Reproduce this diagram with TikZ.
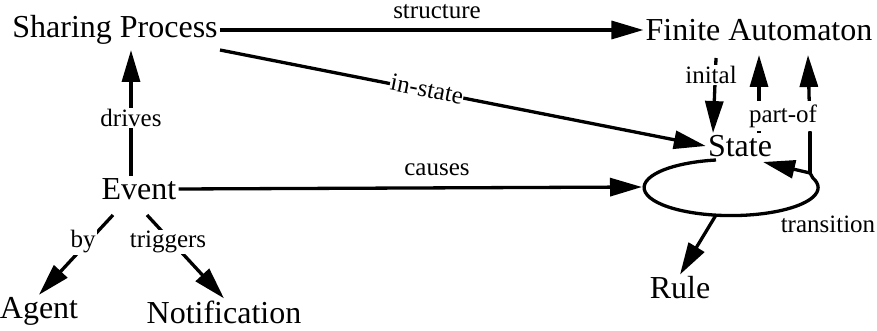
\documentclass[tikz,border=0pt]{standalone}
\usepackage{fontspec}
\setmainfont{Liberation Serif}
\usetikzlibrary{arrows.meta}
\begin{document}
\begin{tikzpicture}[x=1pt,y=-1pt,
  concept/.style={font=\fontsize{32}{34}\selectfont, inner sep=2pt},
  lbl/.style={font=\fontsize{25}{27}\selectfont, inner sep=1.5pt, fill=white},
  arr/.style={line width=3.3pt, -{Triangle[length=32pt,width=18pt]}},
  ln/.style={line width=3.3pt}]
\useasboundingbox (0,0) rectangle (877,331);
% concepts
\node[concept] (sp) at (115,30) {Sharing Process};
\node[concept] (fa) at (759,30) {Finite Automaton};
\node[concept] (st) at (740,146) {State};
\node[concept] (ev) at (139,189) {Event};
\node[concept] (ag) at (39,311) {Agent};
\node[concept] (no) at (224,312) {Notification};
\node[concept] (ru) at (680,288) {Rule};
% helper coordinates
\coordinate (elc) at (731,187);
\coordinate (elw) at (642,187);
\coordinate (elb) at (716,215);
\coordinate (tr) at (810,173);
\coordinate (trtop) at (810,132);
% structure
\draw[arr] (sp.east) -- (fa.west);
\node[lbl, fill=none] (lstructure) at (437,12) {structure};
% drives
\draw[arr] (ev.north -| 131,0) -- (131,50);
% in-state
\draw[arr] (220,50) -- (st.west);
% causes
\draw[arr] (ev.east) -- (elw);
\node[lbl, fill=none] (lcauses) at (437,170) {causes};
% inital
\draw[arr] (716,58) -- (st.north -| 713,0);
% part-of
\draw[arr] (st.north -| 759,0) -- (759,55);
\draw[arr] (trtop) -- (808,55);
\draw[ln] (tr) -- (trtop);
% transition loop
\draw[ln] (716,160) arc[start angle=260, end angle=-20, x radius=87, y radius=28] -- (tr);
\draw[arr] (tr) -- (763,162);
\node[lbl, fill=none] (ltransition) at (828,224) {transition};
% rule
\draw[arr] (elb) -- (ru.north);
% by / triggers
\draw[arr] (113,215) -- (ag.north);
\draw[arr] (147,215) -- (no.north);
% labels over lines
\node[lbl] (ldrives) at (131,118) {drives};
\node[lbl, rotate=-11.3, inner sep=0.5pt] (linstate) at (427,89) {in-state};
\node[lbl] (linital) at (711,75) {inital};
\node[lbl, minimum height=30pt] (lpartof) at (783,116) {part-of};
\node[lbl] (lby) at (83,242) {by};
\node[lbl] (ltriggers) at (168,242) {triggers};
\end{tikzpicture}
\end{document}
